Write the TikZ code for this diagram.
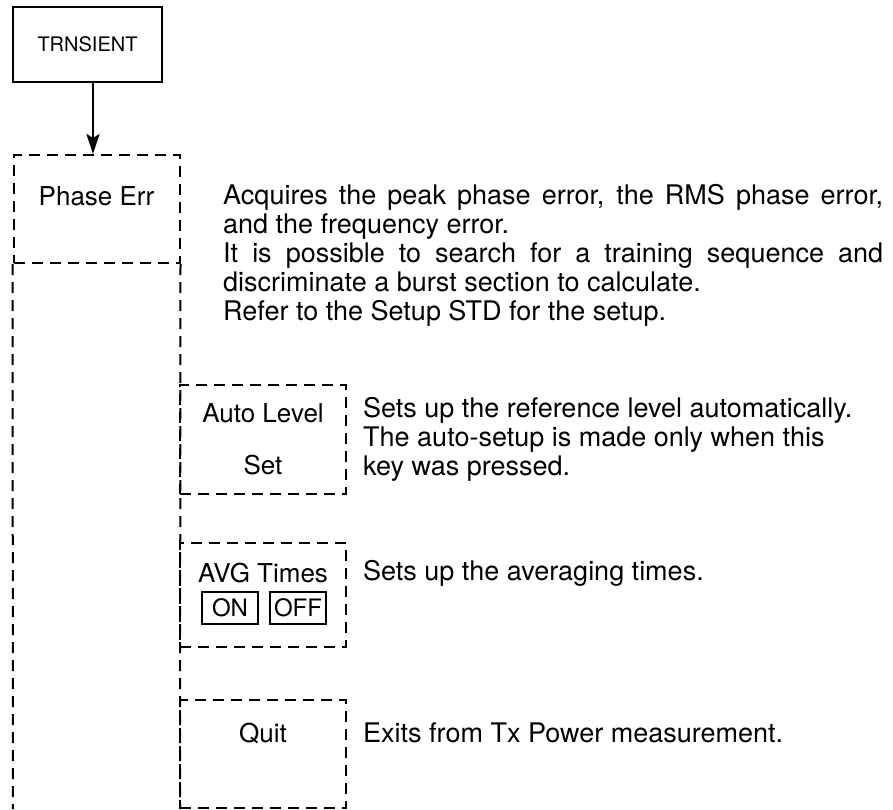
\documentclass[tikz,border=0pt]{standalone}
\usepackage{fontspec}
\setmainfont{TeX Gyre Heros}
\usetikzlibrary{arrows.meta, positioning}

\begin{document}
\begin{tikzpicture}[
  x=1pt, y=-1pt,
  dashline/.style={dash pattern=on 11pt off 7pt, line width=2pt},
  keybox/.style={draw, dashline, minimum width=166pt, inner sep=0pt, font=\fontsize{26}{30}\selectfont},
  toggle/.style={draw, line width=1.8pt, minimum width=56pt, minimum height=32pt, inner sep=0pt, font=\fontsize{24}{28}\selectfont},
  lbl/.style={inner sep=0pt, font=\fontsize{26}{30}\selectfont},
  desc/.style={inner sep=0pt, anchor=north west, align=left, font=\fontsize{27}{29}\selectfont},
  arrow/.style={-{Stealth[length=20pt, width=13pt, inset=4pt]}, line width=2pt},
]
\useasboundingbox (0,0) rectangle (893,809);

% Top level key
\node[draw, line width=2.6pt, minimum width=149pt, minimum height=75pt, font=\fontsize{20}{24}\selectfont] (trns) at (87.5,44.5) {TRNSIENT};

% Phase Err key with its column below
\node[keybox, minimum height=108pt] (phase) at (96.5,209) {};
\node[lbl] (phaselbl) at (96.5,196) {Phase Err};
\coordinate (colbl) at (13,809);
\coordinate (colbr) at (180,809);
\draw[dashline] (phase.south west) -- (colbl);
\draw[dashline] (phase.south east) -- (colbr);

% Sub keys
\node[keybox, minimum height=109pt, align=center] (autolvl) at (263,439.5) {Auto Level\\[22pt]Set};

\node[keybox, minimum height=104pt] (avg) at (263,595) {};
\node[lbl] (avglbl) at (263,573) {AVG Times};
\node[toggle] (on) at (230,608) {ON};
\node[toggle] (off) at (298,608) {OFF};

\node[keybox, minimum height=108pt] (quit) at (263,754) {};
\node[lbl] (quitlbl) at (263,733) {Quit};

% Arrow
\draw[arrow] ([xshift=5.5pt]trns.south) -- ([xshift=-3.5pt]phase.north);

% Descriptions
\node[desc] (phasedesc) at (223,184) {\makebox[660pt][s]{Acquires the peak phase error, the RMS phase error,}\\
  and the frequency error.\\
  \makebox[660pt][s]{It is possible to search for a training sequence and}\\
  discriminate a burst section to calculate.\\
  Refer to the Setup STD for the setup.};
\node[desc] (autodesc) at (363,397) {Sets up the reference level automatically.\\
  The auto-setup is made only when this\\
  key was pressed.};
\node[desc, anchor=west] (avgdesc) at (363,573) {Sets up the averaging times.};
\node[desc, anchor=west] (quitdesc) at (363,733) {Exits from Tx Power measurement.};

\end{tikzpicture}
\end{document}
